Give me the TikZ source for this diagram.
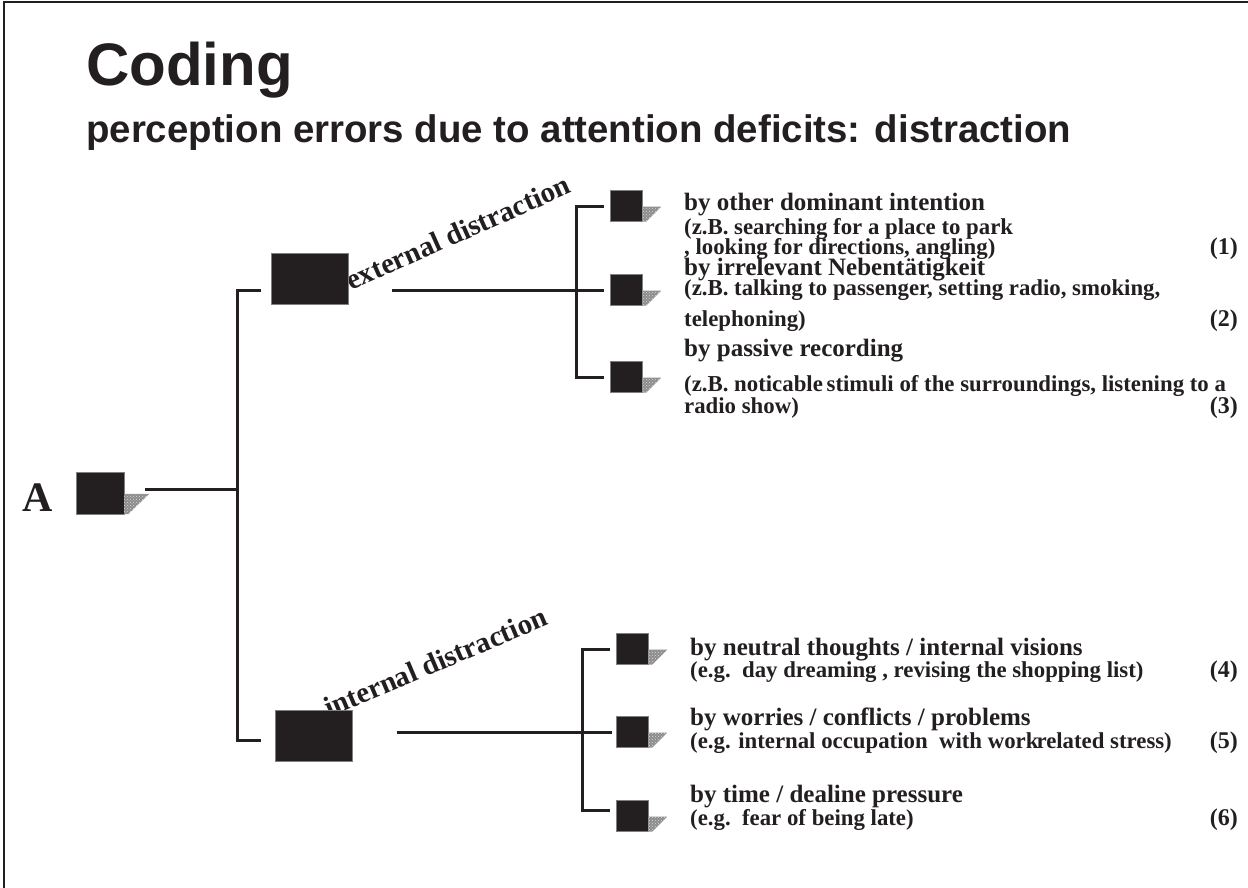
\documentclass[tikz,border=0pt]{standalone}
\usepackage{fontspec}
\setmainfont{Liberation Serif}
\newfontfamily\titlefont{Liberation Sans}
\usepackage{tikz}
\usetikzlibrary{calc,patterns}
\definecolor{ink}{RGB}{35,31,32}

\begin{document}
\begin{tikzpicture}[x=1pt, y=-1pt, every node/.style={text=ink, inner sep=0pt},
	bx/.style={draw=gray, fill=ink, minimum width=32pt, minimum height=31pt},
	bigbx/.style={draw=gray, fill=ink, minimum width=77pt, minimum height=51pt},
	ln/.style={draw=ink, line width=3pt},
	shd/.style={fill=black!45, postaction={pattern=crosshatch dots, pattern color=white!85!black}},
	hd/.style={anchor=base west, font=\bfseries\fontsize{25}{27}\selectfont},
	sub/.style={anchor=base west, font=\bfseries\fontsize{22.8}{25}\selectfont},
	num/.style={anchor=base east, font=\bfseries\fontsize{24}{26}\selectfont},
	rot/.style={anchor=base west, font=\bfseries\fontsize{29}{31}\selectfont}]
	\useasboundingbox (0,0) rectangle (1248,888);
	\draw[ink, line width=1.5pt] (4,888) -- (4,2) -- (1248,2);
	% title
	\node[anchor=base west, font=\titlefont\bfseries\fontsize{60}{64}\selectfont] (title) at (86,86) {Coding};
	\node[anchor=base west, font=\titlefont\bfseries\fontsize{38.4}{40}\selectfont] (subtitle) at (86,143) {perception errors due to attention deficits: distraction};
	% rotated labels
	\node[rot, rotate=24] (extlab) at (351,291) {external distraction};
	\node[rot, rotate=23] (intlab) at (329,718) {internal distraction};
	% boxes
	\node[font=\bfseries\fontsize{42}{44}\selectfont, anchor=base west] (Alab) at (22,511) {A};
	\node[bx, minimum width=48pt, minimum height=42pt] (A) at (100,493) {};
	\node[bigbx] (ext) at (310,279) {};
	\node[bigbx] (int) at (314,736) {};
	\node[bx] (e1) at (626,206) {};
	\node[bx] (e2) at (626,290) {};
	\node[bx] (e3) at (626,377) {};
	\node[bx] (i1) at (632,649) {};
	\node[bx] (i2) at (632,732) {};
	\node[bx] (i3) at (632,816) {};
	% shadows
	\foreach \n/\w in {A/25,e1/19,e2/19,e3/19,i1/19,i2/19,i3/19}
		\fill[shd] ($(\n.north east)!0.52!(\n.south east)$) -- ++(\w,0) -- ($(\n.south east)+(4,0)$) -- (\n.south east) -- cycle;
	% tree
	\coordinate (j0) at (237,489);
	\coordinate (jt) at (237,290);
	\coordinate (jb) at (237,740);
	\draw[ln] ([xshift=21pt]A.east |- j0) -- (j0);
	\draw[ln] ([xshift=-10pt]ext.west |- jt) -- (jt) -- (jb) -- ([xshift=-14pt]int.west |- jb);
	\draw[ln] ([xshift=43pt]ext.east |- e2.west) -- ([xshift=-6pt]e2.west);
	\draw[ln] ([xshift=-6pt]e1.west) -- ++(-27,0) |- ([xshift=-6pt]e3.west);
	\draw[ln] ([xshift=44pt]int.east |- i2.west) -- ([xshift=-4pt]i2.west);
	\draw[ln] ([xshift=-6pt]i1.west) -- ++(-27,0) |- ([xshift=-6pt,yshift=6pt]i3.west);
	% external items
	\node[hd] (h1) at (684,211) {by other dominant intention};
	\node[sub] (s1a) at (684,234) {(z.B. searching for a place to park};
	\node[sub] (s1b) at (684,254) {, looking for directions, angling)};
	\node[num] (n1) at (1238,254) {(1)};
	\node[hd] (h2) at (684,275) {by irrelevant Nebentätigkeit};
	\node[sub] (s2a) at (684,295) {(z.B. talking to passenger, setting radio, smoking,};
	\node[sub] (s2b) at (684,326) {telephoning)};
	\node[num] (n2) at (1238,326) {(2)};
	\node[hd] (h3) at (684,356) {by passive recording};
	\node[sub] (s3a) at (684,391) {(z.B. noticable\,stimuli of the surroundings, listening to a};
	\node[sub] (s3b) at (684,413) {radio show)};
	\node[num] (n3) at (1238,413) {(3)};
	% internal items
	\node[hd] (h4) at (690,655) {by neutral thoughts / internal visions};
	\node[sub] (s4) at (690,677) {(e.g.\ \ day dreaming , revising the shopping list)};
	\node[num] (n4) at (1238,677) {(4)};
	\node[hd] (h5) at (690,725) {by worries / conflicts / problems};
	\node[sub] (s5) at (690,748) {(e.g. internal occupation\ \ with work\kern-2pt related stress)};
	\node[num] (n5) at (1238,748) {(5)};
	\node[hd] (h6) at (690,802) {by time / dealine pressure};
	\node[sub] (s6) at (690,825) {(e.g.\ \ fear of being late)};
	\node[num] (n6) at (1238,825) {(6)};
\end{tikzpicture}
\end{document}
